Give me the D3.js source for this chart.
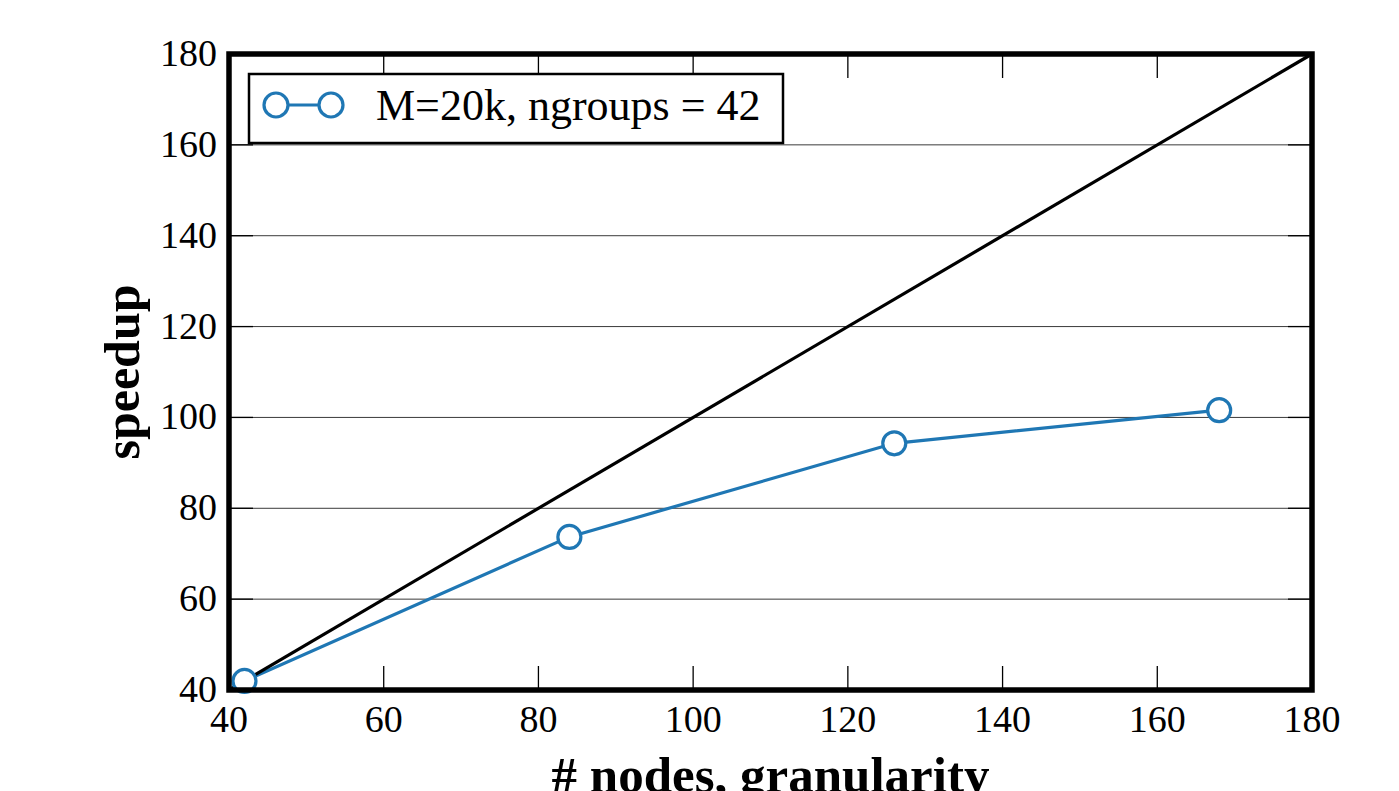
<!doctype html>
<html>
<head>
<script src="https://d3js.org/d3.v7.min.js"></script>
<style>
  body { margin: 0; background: #fff; }
  text { font-family: "Liberation Serif", "Times New Roman", serif; fill: #000; }
</style>
</head>
<body>
<svg width="1399" height="791"></svg>
<script>
// data
var nodes = [42, 84, 126, 168];
var speedup = [42, 73.7, 94.3, 101.6];
var idealLine = [40, 180];
var xTicks = [40, 60, 80, 100, 120, 140, 160, 180];
var yTicks = [40, 60, 80, 100, 120, 140, 160, 180];
var seriesLabel = "M=20k, ngroups = 42";

var svg = d3.select("svg");
var pLeft = 229, pRight = 1312, pTop = 54, pBottom = 690;

var x = d3.scaleLinear().domain([40, 180]).range([pLeft, pRight]);
var y = d3.scaleLinear().domain([40, 180]).range([pBottom, pTop]);

// horizontal grid
svg.append("g")
    .selectAll("line")
    .data(yTicks)
    .enter().append("line")
    .attr("x1", pLeft).attr("x2", pRight)
    .attr("y1", d => y(d)).attr("y2", d => y(d))
    .attr("stroke", "#3a3a3a")
    .attr("stroke-width", 1);

var pts = nodes.map((d, i) => [d, speedup[i]]);

svg.append("path")
    .datum(pts)
    .attr("fill", "none")
    .attr("stroke", "#1f77b4")
    .attr("stroke-width", 3.2)
    .attr("d", d3.line().x(d => x(d[0])).y(d => y(d[1])));

// ideal speedup
svg.append("line")
    .attr("x1", x(idealLine[0])).attr("y1", y(idealLine[0]))
    .attr("x2", x(idealLine[1])).attr("y2", y(idealLine[1]))
    .attr("stroke", "#000")
    .attr("stroke-width", 3.2);

svg.append("g")
    .selectAll("circle")
    .data(pts)
    .enter().append("circle")
    .attr("cx", d => x(d[0]))
    .attr("cy", d => y(d[1]))
    .attr("r", 11.5)
    .attr("fill", "#fff")
    .attr("stroke", "#1f77b4")
    .attr("stroke-width", 3.2);

// inward ticks on all four sides
var tickLen = 24;
var ticksG = svg.append("g").attr("stroke", "#000").attr("stroke-width", 1.3);
xTicks.forEach(function(t) {
    ticksG.append("line").attr("x1", x(t)).attr("x2", x(t)).attr("y1", pBottom).attr("y2", pBottom - tickLen);
    ticksG.append("line").attr("x1", x(t)).attr("x2", x(t)).attr("y1", pTop).attr("y2", pTop + tickLen);
});
yTicks.forEach(function(t) {
    ticksG.append("line").attr("y1", y(t)).attr("y2", y(t)).attr("x1", pLeft).attr("x2", pLeft + tickLen);
    ticksG.append("line").attr("y1", y(t)).attr("y2", y(t)).attr("x1", pRight).attr("x2", pRight - tickLen);
});

// tick labels
svg.append("g")
    .selectAll("text")
    .data(xTicks)
    .enter().append("text")
    .attr("x", d => x(d))
    .attr("y", 732)
    .attr("text-anchor", "middle")
    .style("font-size", "38px")
    .text(d => d);

svg.append("g")
    .selectAll("text")
    .data(yTicks)
    .enter().append("text")
    .attr("x", 217)
    .attr("y", d => y(d) + 12)
    .attr("text-anchor", "end")
    .style("font-size", "38px")
    .text(d => d);

// frame
svg.append("rect")
    .attr("x", pLeft).attr("y", pTop)
    .attr("width", pRight - pLeft).attr("height", pBottom - pTop)
    .attr("fill", "none")
    .attr("stroke", "#000")
    .attr("stroke-width", 5.5);

// axis labels
svg.append("text")
    .attr("transform", "translate(139," + (pTop + pBottom) / 2 + ") rotate(-90)")
    .attr("text-anchor", "middle")
    .style("font-size", "50px")
    .style("font-weight", "bold")
    .text("speedup");

svg.append("text")
    .attr("x", (pLeft + pRight) / 2)
    .attr("y", 792)
    .attr("text-anchor", "middle")
    .style("font-size", "51px")
    .style("font-weight", "bold")
    .text("# nodes, granularity");

// legend
var lg = svg.append("g");
lg.append("rect")
    .attr("x", 249).attr("y", 74)
    .attr("width", 534).attr("height", 69)
    .attr("fill", "#fff")
    .attr("stroke", "#000")
    .attr("stroke-width", 2.5);
lg.append("line")
    .attr("x1", 276).attr("x2", 331).attr("y1", 105).attr("y2", 105)
    .attr("stroke", "#1f77b4").attr("stroke-width", 3.2);
[276, 331].forEach(function(cx) {
    lg.append("circle")
        .attr("cx", cx).attr("cy", 105).attr("r", 12)
        .attr("fill", "#fff").attr("stroke", "#1f77b4").attr("stroke-width", 3.2);
});
lg.append("text")
    .attr("x", 376).attr("y", 120)
    .style("font-size", "44px")
    .text(seriesLabel);
</script>
</body>
</html>
